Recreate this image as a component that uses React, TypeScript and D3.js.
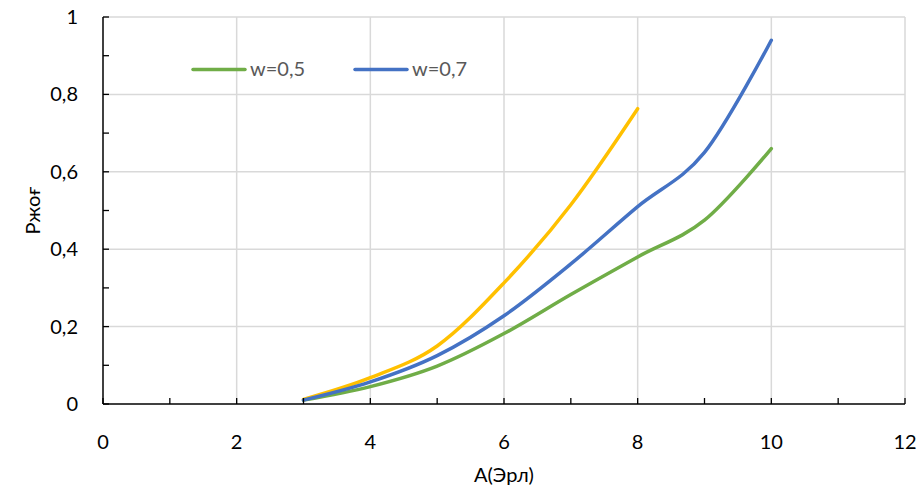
import React from "react";
import * as d3 from "d3";

const xValues = [3, 4, 5, 6, 7, 8, 9, 10];
const seriesW05 = [0.01, 0.045, 0.098, 0.182, 0.283, 0.38, 0.475, 0.66];
const seriesW07 = [0.01, 0.057, 0.125, 0.228, 0.362, 0.51, 0.65, 0.94];
const xValuesW09 = [3, 4, 5, 6, 7, 8];
const seriesW09 = [0.012, 0.068, 0.15, 0.313, 0.515, 0.763];
const xTicks = [0, 2, 4, 6, 8, 10, 12];
const yTicks = [0, 0.2, 0.4, 0.6, 0.8, 1];
const yTickLabels = ["0", "0,2", "0,4", "0,6", "0,8", "1"];
const legendLabels = ["w=0,5", "w=0,7"];

const W = 924;
const H = 493;
const FONT = "Lato, 'Open Sans', sans-serif";

export default function App() {
  const x = d3.scaleLinear().domain([0, 12]).range([103, 905]);
  const y = d3.scaleLinear().domain([0, 1]).range([404, 17]);

  const line = d3
    .line<[number, number]>()
    .x((d) => x(d[0]))
    .y((d) => y(d[1]))
    .curve(d3.curveCardinal.tension(0));

  const series = [
    { xs: xValuesW09, ys: seriesW09, color: "#FFC000" },
    { xs: xValues, ys: seriesW05, color: "#70AD47" },
    { xs: xValues, ys: seriesW07, color: "#4472C4" },
  ];

  const minorX = d3.range(0, 13, 1);
  const minorY = d3.range(0, 1.0001, 0.1);

  return (
    <svg
      width={W}
      height={H}
      style={{ position: "absolute", left: 0, top: 0, background: "#fff" }}
      fontFamily={FONT}
    >
      <rect x={0} y={0} width={W} height={H} fill="#fff" />
      {/* gridlines */}
      {xTicks.slice(1).map((t) => (
        <line key={"gx" + t} x1={x(t)} x2={x(t)} y1={y(0)} y2={y(1)} stroke="#d9d9d9" strokeWidth={1.5} />
      ))}
      {yTicks.slice(1).map((t) => (
        <line key={"gy" + t} x1={x(0)} x2={x(12)} y1={y(t)} y2={y(t)} stroke="#d9d9d9" strokeWidth={1.5} />
      ))}
      {/* series */}
      {series.map((s, i) => (
        <path
          key={i}
          d={line(s.xs.map((v, j) => [v, s.ys[j]] as [number, number])) || ""}
          fill="none"
          stroke={s.color}
          strokeWidth={3.5}
          strokeLinecap="round"
          strokeLinejoin="round"
        />
      ))}
      {/* axes */}
      <line x1={x(0)} x2={x(12)} y1={y(0)} y2={y(0)} stroke="#000" strokeWidth={1.5} />
      <line x1={x(0)} x2={x(0)} y1={y(0)} y2={y(1)} stroke="#000" strokeWidth={1.5} />
      {minorX.map((t) => (
        <line key={"tx" + t} x1={x(t)} x2={x(t)} y1={y(0)} y2={y(0) - 6} stroke="#000" strokeWidth={1.3} />
      ))}
      {minorY.map((t, i) => (
        <line key={"ty" + i} x1={x(0)} x2={x(0) + 6} y1={y(t)} y2={y(t)} stroke="#000" strokeWidth={1.3} />
      ))}
      {/* tick labels */}
      {xTicks.map((t) => (
        <text key={"lx" + t} x={x(t)} y={449} textAnchor="middle" fontSize={20} fill="#000">
          {t}
        </text>
      ))}
      {yTicks.map((t, i) => (
        <text key={"ly" + i} x={78} y={y(t) + 7} textAnchor="end" fontSize={20} fill="#000">
          {yTickLabels[i]}
        </text>
      ))}
      {/* axis titles */}
      <text x={x(6)} y={482} textAnchor="middle" fontSize={20} fill="#000">
        А(Эрл)
      </text>
      <text
        transform={`translate(40, ${y(0.5)}) rotate(-90)`}
        textAnchor="middle"
        fontSize={20}
        fill="#000"
      >
        Ржоғ
      </text>
      {/* legend */}
      {[
        { label: legendLabels[0], color: "#70AD47", x0: 193 },
        { label: legendLabels[1], color: "#4472C4", x0: 355 },
      ].map((l) => (
        <g key={l.label}>
          <line x1={l.x0} x2={l.x0 + 52} y1={69.5} y2={69.5} stroke={l.color} strokeWidth={3.5} strokeLinecap="round" />
          <text x={l.x0 + 57} y={76} fontSize={20} fill="#595959">
            {l.label}
          </text>
        </g>
      ))}
    </svg>
  );
}
